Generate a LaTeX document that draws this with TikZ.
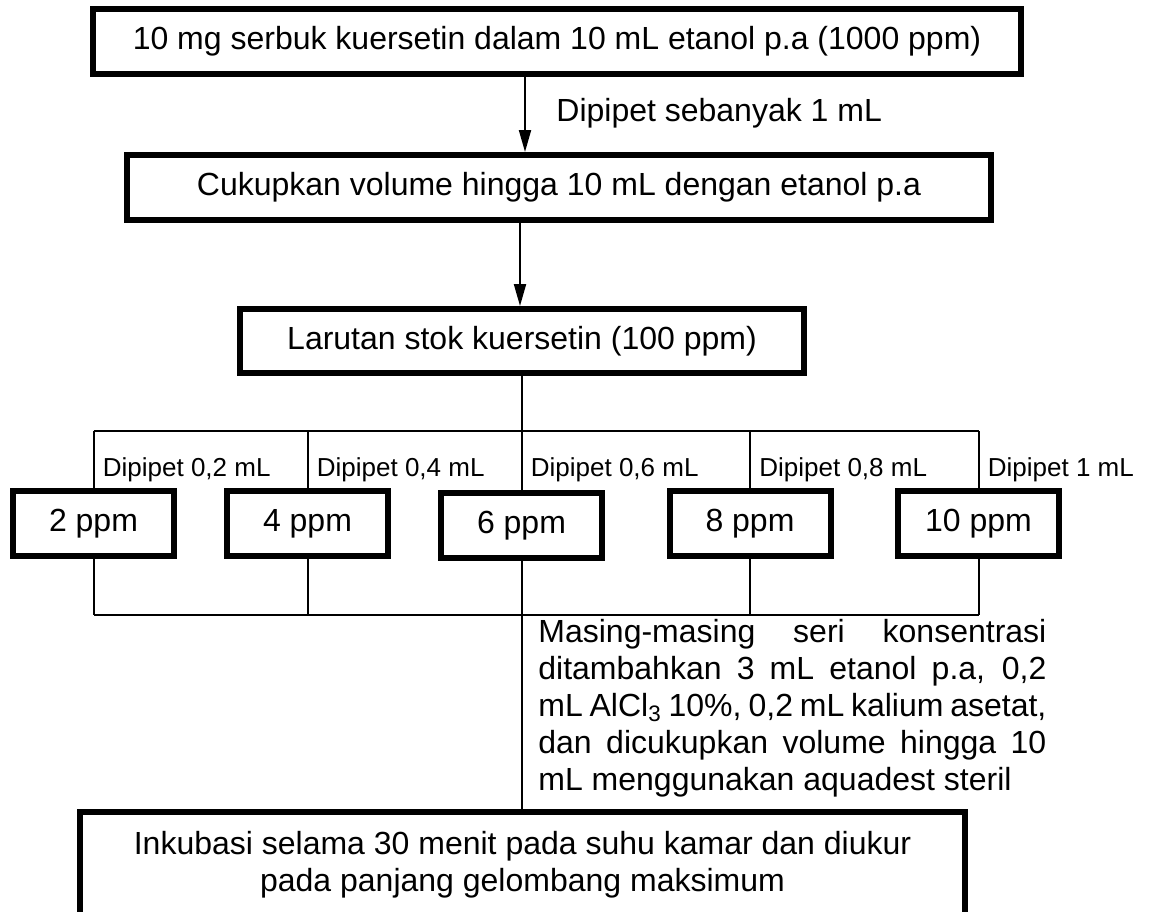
\documentclass[tikz,border=0pt]{standalone}
\usepackage{fontspec}
\setmainfont{Liberation Sans}
\usetikzlibrary{arrows.meta}

\tikzset{
  box/.style={draw, line width=3pt, inner sep=0pt, minimum height=32.5pt,
    font=\fontsize{16}{18.5}\selectfont},
  concbox/.style={box, minimum width=80.5pt},
  link/.style={line width=1pt},
  arr/.style={link, -{Triangle[length=11pt,width=6pt]}},
  piplabel/.style={anchor=base west, inner sep=0pt, font=\fontsize{13}{15}\selectfont},
}

\begin{document}
\begin{tikzpicture}[x=0.5pt, y=-0.5pt]
  \useasboundingbox (0,0) rectangle (1150,911);

  % Main steps
  \node[box, minimum width=464pt] (stock1000) at (557,41.5) {10 mg serbuk kuersetin dalam 10 mL etanol p.a (1000 ppm)};
  \node[box, minimum width=432pt] (dilute) at (559,187.5) {Cukupkan volume hingga 10 mL dengan etanol p.a};
  \node[box, minimum width=282pt, minimum height=32pt] (stock100) at (522,341) {Larutan stok kuersetin (100 ppm)};

  % Arrows
  \coordinate (col1) at (525,0);
  \coordinate (col2) at (520,0);
  \draw[arr] (stock1000.south -| col1) -- (dilute.north -| col1);
  \node[piplabel, font=\fontsize{16}{18.5}\selectfont] (pipstock) at (556,121) {Dipipet sebanyak 1 mL};
  \draw[arr] (dilute.south -| col2) -- (stock100.north -| col2);

  % Branch lines
  \coordinate (topL) at (93.5,431);
  \coordinate (topR) at (978.5,431);
  \coordinate (botL) at (93.5,615);
  \coordinate (botR) at (978.5,615);
  \draw[link] (stock100.south) -- (stock100.south |- topL);
  \draw[link] (topL) -- (topR);
  \draw[link] (botL) -- (botR);

  % Concentration series
  \foreach \x/\y/\ppm/\vol [count=\i] in {93.5/523.5/2/{0,2}, 307.5/523.5/4/{0,4},
      521.5/525.5/6/{0,6}, 750/523.5/8/{0,8}, 978.5/523.5/10/1}{
    \node[concbox] (conc\i) at (\x,\y) {\ppm\ ppm};
    \node[piplabel] (pip\i) at (\x+9,476) {Dipipet \vol\ mL};
    \draw[link] (conc\i.north |- topL) -- (conc\i.north);
    \draw[link] (conc\i.south) -- (conc\i.south |- botL);
  }

  % Treatment and measurement
  \node[anchor=north west, inner sep=0pt, text width=254pt, align=justify,
    font=\fontsize{16}{18.5}\selectfont] (note) at (538,619)
    {\hyphenpenalty=10000 \exhyphenpenalty=10000
     \spaceskip=0.278em plus 0.8em minus 0.08em
     Masing-masing seri konsentrasi\linebreak
     ditambahkan 3 mL etanol p.a, 0,2\linebreak
     mL AlCl\textsubscript{3} 10\%, 0,2 mL kalium asetat,\linebreak
     dan dicukupkan volume hingga 10\linebreak
     mL menggunakan aquadest steril};
  \node[box, minimum width=442.5pt, minimum height=53pt, align=center] (incub) at (522.5,865)
    {Inkubasi selama 30 menit pada suhu kamar dan diukur\\pada panjang gelombang maksimum};
  \draw[link] (conc3.south |- botL) -- (incub.north -| conc3.south);
\end{tikzpicture}
\end{document}
